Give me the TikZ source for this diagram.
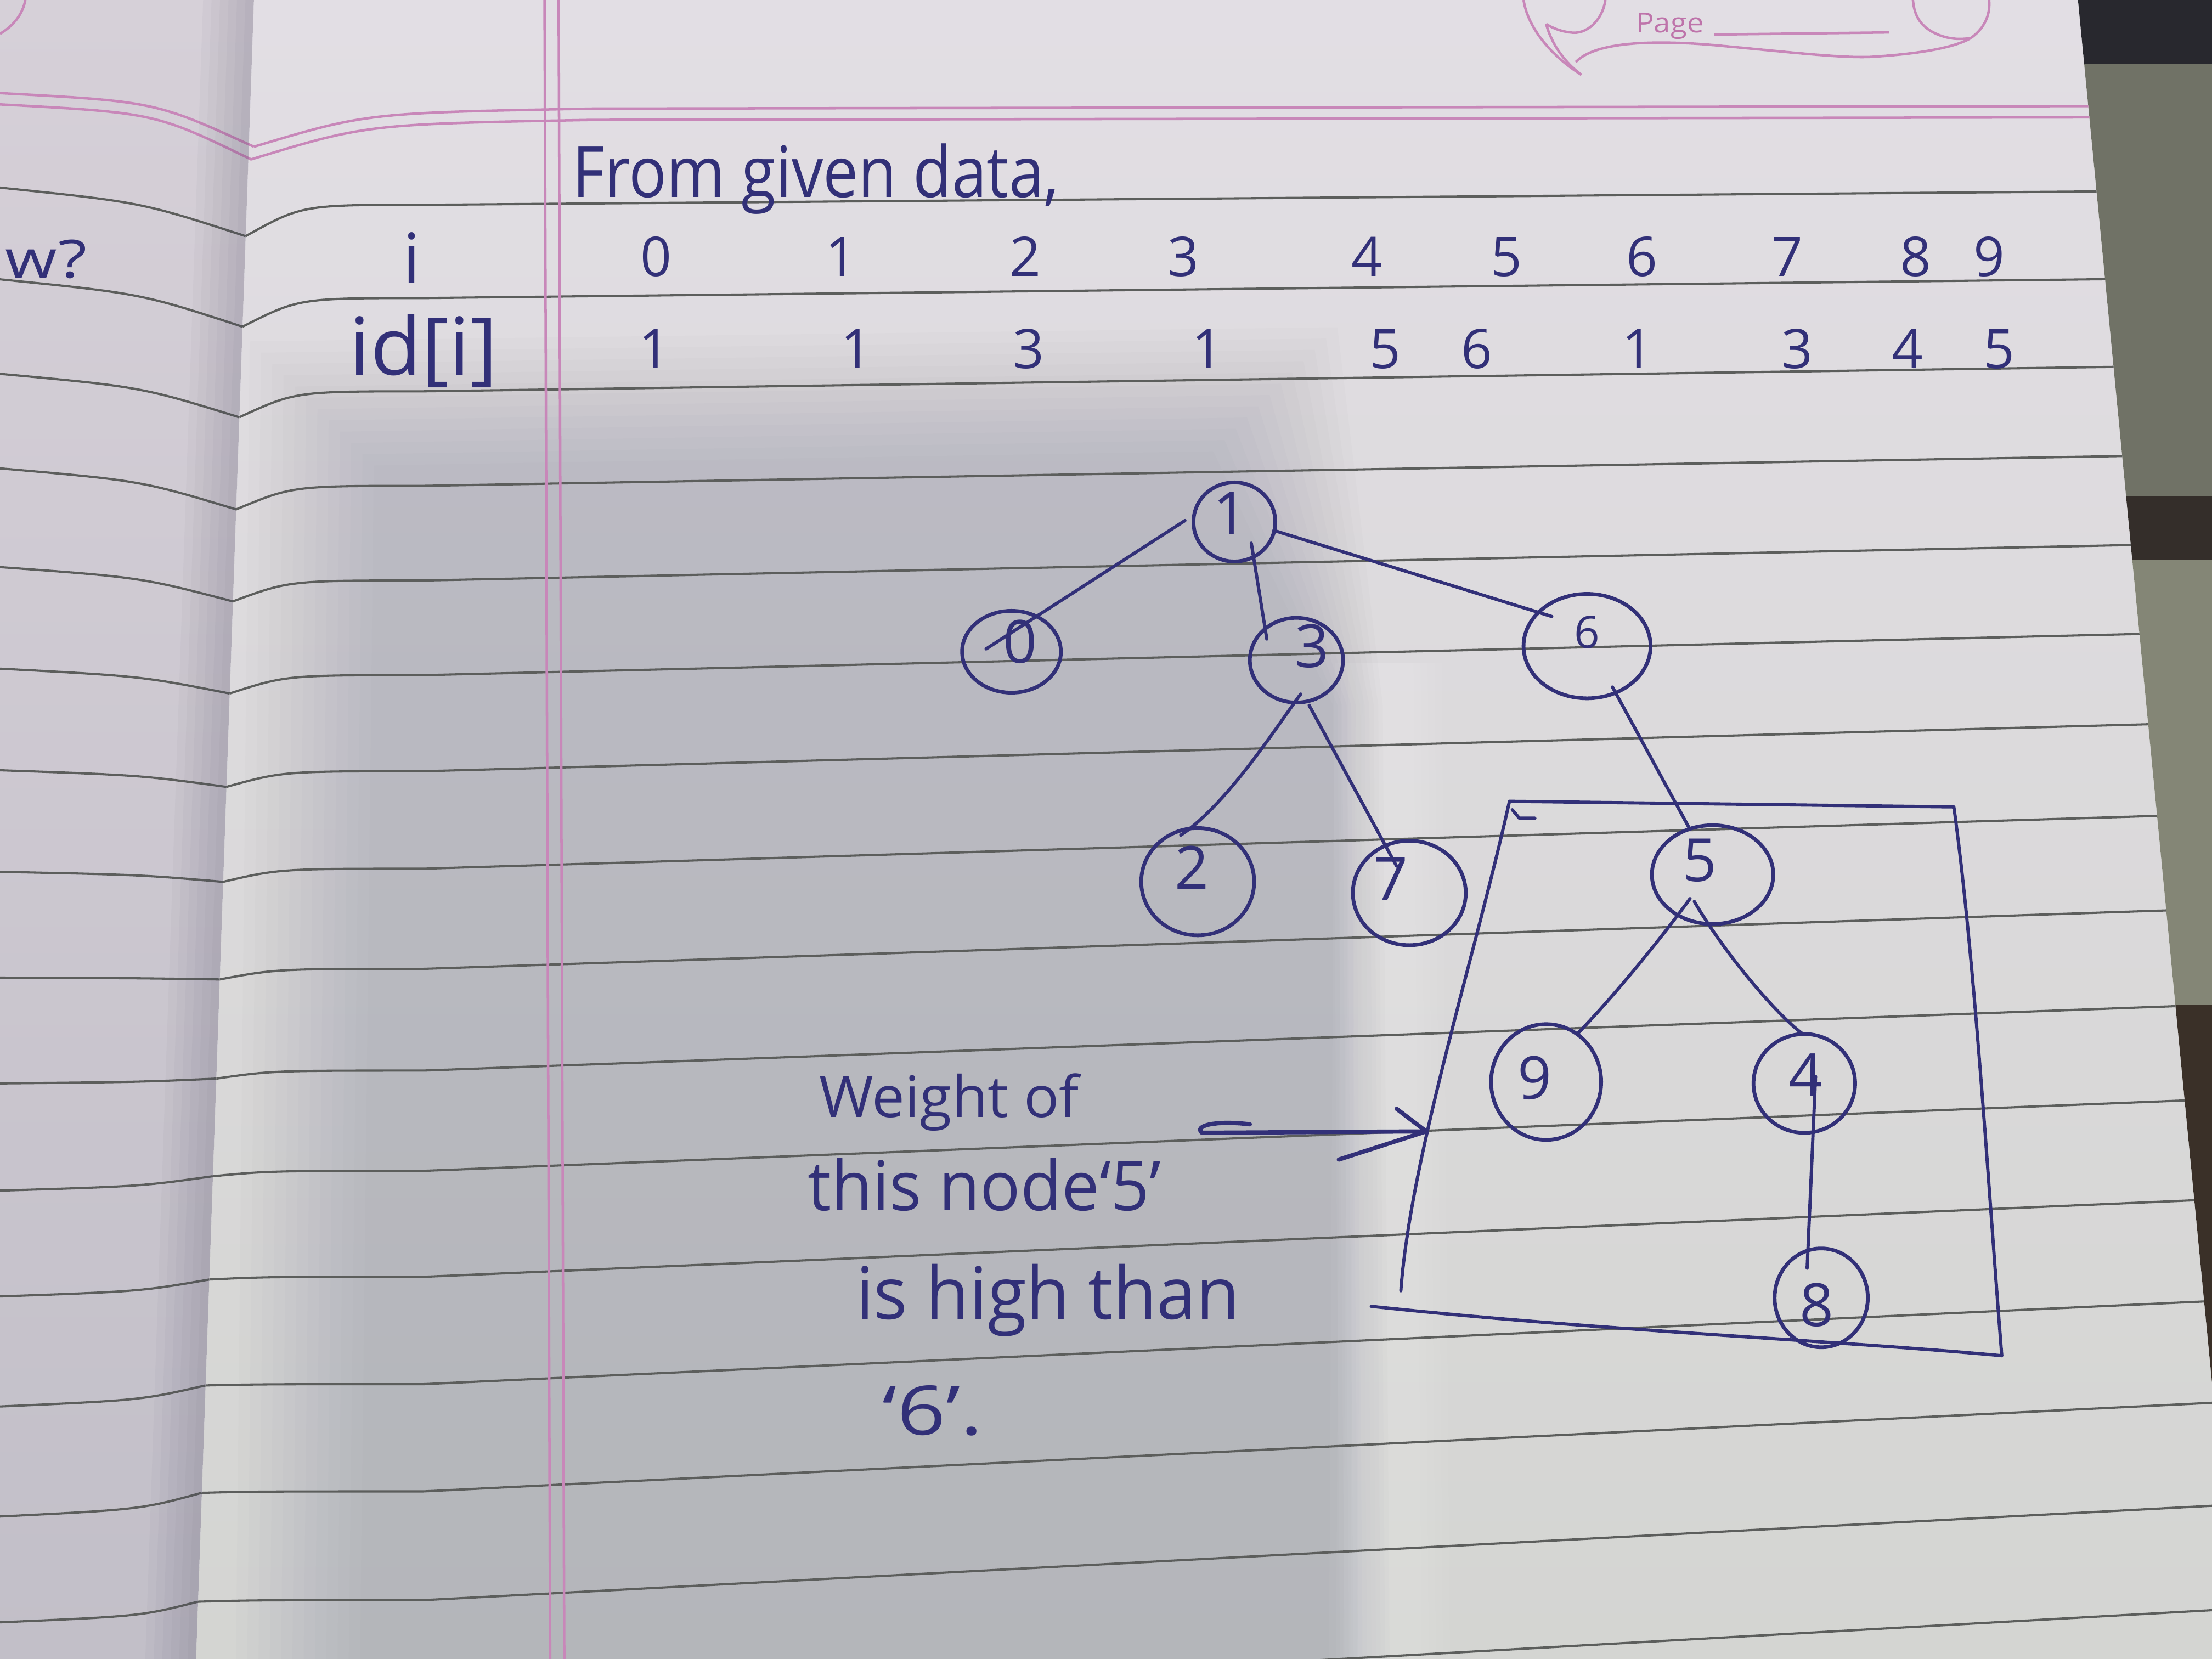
\documentclass[tikz,border=0pt]{standalone}
\usepackage{fontspec}
\setmainfont{Open Sans}
\usepackage{graphicx}
\usetikzlibrary{shapes.geometric,calc}
\definecolor{ink}{RGB}{50,48,120}
\definecolor{rulec}{RGB}{92,94,92}
\definecolor{pinkc}{RGB}{200,135,185}
\definecolor{pinktext}{RGB}{190,115,170}
\definecolor{paperTop}{RGB}{226,222,228}
\definecolor{paperBot}{RGB}{212,213,210}
\definecolor{leftTop}{RGB}{214,208,216}
\definecolor{leftBot}{RGB}{194,191,200}
\definecolor{shadowc}{RGB}{62,66,84}
\definecolor{gutterc}{RGB}{70,66,90}
\definecolor{deskA}{RGB}{40,40,46}
\definecolor{deskB}{RGB}{112,114,102}
\definecolor{deskC}{RGB}{52,46,42}
\definecolor{deskD}{RGB}{132,134,118}
\definecolor{deskE}{RGB}{58,48,40}
\begin{document}
\begin{tikzpicture}[x=0.01cm,y=-0.01cm,
  tnode/.style={ellipse,draw=ink,line width=0.75pt,inner sep=0pt},
  digit/.style={text=ink,font=\fontsize{12}{14}\selectfont,inner sep=0pt},
  tdigit/.style={text=ink,font=\fontsize{11}{13}\selectfont,inner sep=0pt,anchor=base},
  edge/.style={draw=ink,line width=0.65pt,line cap=round,line join=round},
  words/.style={text=ink,inner sep=0pt,anchor=base west},
  ruled/.style={draw=rulec,line width=0.45pt},
  pinkrule/.style={draw=pinkc,line width=0.5pt}]
\useasboundingbox (0,0) rectangle (1568,1176);

% ---------- paper ----------
\coordinate (gtop) at (180,0);
\coordinate (gbot) at (139,1176);
\shade[top color=leftTop,bottom color=leftBot] (0,0) -- (gtop) -- (gbot) -- (0,1176) -- cycle;
\shade[top color=paperTop,bottom color=paperBot] (gtop) -- (1473,0) -- (1568,980) -- (1568,1176) -- (gbot) -- cycle;

% ---------- desk beyond the page ----------
\begin{scope}
\clip (1473,0) -- (1568,0) -- (1568,980) -- cycle;
\fill[deskA] (1400,0) rectangle (1600,45);
\fill[deskB] (1400,45) rectangle (1600,352);
\fill[deskC] (1400,352) rectangle (1600,397);
\fill[deskD] (1400,397) rectangle (1600,712);
\fill[deskE] (1400,712) rectangle (1600,1000);
\end{scope}

% ---------- right page: shadow, rules, margin ----------
\begin{scope}
\clip (gtop) -- (1473,0) -- (1568,980) -- (1568,1176) -- (gbot) -- cycle;
\foreach \d in {0,8,...,88}{
  \fill[shadowc,opacity=0.016] ({265-\d},{330-\d}) -- ({860+\d},{320-\d}) -- ({945+0.4*\d},500) -- ({950+0.4*\d},1200) -- ({255-\d},1200) -- cycle;
}
\foreach \d in {0,5,...,20}{
  \fill[white,opacity=0.04] ({966-\d},470) -- ({1002+\d},470) -- ({1008+\d},1200) -- ({962-\d},1200) -- cycle;
}
\foreach \gx/\G/\ya/\yb in {
174.1/167.4/145.2/134.8, 171.9/231.6/211.3/196.7, 169.6/295.8/277.4/258.6,
167.4/361.1/344.4/321.6, 165.1/426.3/411.5/384.5, 162.8/491.6/478.6/447.4,
160.5/557.8/546.7/511.3, 158.1/625.1/615.8/576.2, 155.7/694.3/686.8/643.2,
153.2/764.6/758.9/711.1, 150.8/833.8/830/778, 148.3/907/905.1/848.9,
145.6/982.1/981.2/920.8, 143/1058.2/1057.2/992.8, 140.3/1135.4/1134.3/1065.7,
137.6/1213/1212.4/1139.6}{
  \draw[ruled] (\gx,\G) .. controls ({\gx+40},\ya) .. (300,\ya) -- (1600,\yb);
}
\draw[pinkrule] (180,104) .. controls (260,80) .. (420,77) -- (1600,75);
\draw[pinkrule] (178,113) .. controls (260,88) .. (420,85) -- (1600,83);
\draw[pinkrule] (386,0) -- (390,1176);
\draw[pinkrule] (396,0) -- (400,1176);
\end{scope}

% ---------- left page rules ----------
\foreach \L/\G/\gx in {133/167.4/174.1, 198/231.6/171.9, 265/295.8/169.6, 332/361.1/167.4,
402/426.3/165.1, 474/491.6/162.8, 546/557.8/160.5, 618/625.1/158.1, 693/694.3/155.7,
768/764.6/153.2, 844/833.8/150.8, 919/907/148.3, 997/982.1/145.6, 1075/1058.2/143,
1150/1135.4/140.3}{
  \draw[ruled] (0,\L) .. controls (100,{\L+0.3*(\G-\L)}) .. (\gx,\G);
}
\draw[pinkrule] (0,66) .. controls (110,72) .. (180,104);
\draw[pinkrule] (0,74) .. controls (110,80) .. (178,113);
\draw[pinkrule] (0,24) .. controls (10,18) and (16,10) .. (18,0);
\foreach \w in {36,30,...,6}{
  \fill[gutterc,opacity=0.035] ({180-\w},0) -- (180,0) -- (139,1176) -- ({139-\w},1176) -- cycle;
}

% ---------- page banner ----------
\draw[pinkrule] (1080,0) .. controls (1083,20) and (1100,40) .. (1121,53);
\draw[pinkrule] (1138,0) .. controls (1136,14) and (1125,25) .. (1113,23) .. controls (1105,22) and (1099,19) .. (1096,17);
\draw[pinkrule] (1096,17) .. controls (1100,32) and (1110,45) .. (1121,53);
\draw[pinkrule] (1117,44) .. controls (1130,30) and (1170,28) .. (1215,32) .. controls (1270,37) and (1310,42) .. (1331,40) .. controls (1360,38) and (1385,34) .. (1397,27);
\draw[pinkrule] (1397,27) .. controls (1407,20) and (1411,10) .. (1410,0);
\draw[pinkrule] (1356,0) .. controls (1357,12) and (1362,20) .. (1375,25) .. controls (1383,28) and (1390,28) .. (1397,27);
\node[anchor=base west,text=pinktext,inner sep=0pt] (pg) at (1159,23) {\resizebox{0.48cm}{0.14cm}{Page}};
\draw[pinkrule] (1215,24.5) -- (1339,23);

% ---------- left page ink ----------
\node[words] (lw) at (3,197) {\resizebox{0.58cm}{0.27cm}{w?}};

% ---------- heading and table ----------
\node[words] (head) at (405,140) {\resizebox{3.45cm}{0.38cm}{From given data,}};
\node[text=ink,inner sep=0pt,anchor=base,font=\fontsize{14}{16}\selectfont] (li) at (292,201) {i};
\node[words] (lid) at (247,266) {\resizebox{1.05cm}{0.43cm}{id[i]}};
\foreach \x/\t [count=\c] in {465/0,596/1,727/2,839/3,969/4,1068/5,1164/6,1267/7,1358/8,1410/9}{
  \node[tdigit] (ia\c) at (\x,196) {\t};
}
\foreach \x/\t [count=\c] in {464/1,607/1,729/3,856/1,982/5,1047/6,1161/1,1274/3,1352/4,1417/5}{
  \node[tdigit] (ib\c) at (\x,261) {\t};
}

% ---------- tree ----------
\node[tnode,minimum width=0.58cm,minimum height=0.56cm,label={[digit,xshift=-0.03cm,yshift=0.06cm]center:1}] (n1) at (875,370) {};
\node[tnode,minimum width=0.70cm,minimum height=0.58cm,label={[digit,xshift=0.06cm,yshift=0.07cm]center:0}] (n0) at (717,462) {};
\node[tnode,minimum width=0.66cm,minimum height=0.60cm,label={[digit,xshift=0.11cm,yshift=0.10cm]center:3}] (n3) at (919,468) {};
\node[tnode,minimum width=0.90cm,minimum height=0.74cm,label={[digit,font=\fontsize{9}{11}\selectfont,yshift=0.10cm]center:6}] (n6) at (1125,458) {};
\node[tnode,minimum width=0.80cm,minimum height=0.76cm,label={[digit,xshift=-0.04cm,yshift=0.10cm]center:2}] (n2) at (849,625) {};
\node[tnode,minimum width=0.80cm,minimum height=0.74cm,label={[digit,xshift=-0.13cm,yshift=0.10cm]center:7}] (n7) at (999,633) {};
\node[tnode,minimum width=0.86cm,minimum height=0.70cm,label={[digit,xshift=-0.09cm,yshift=0.10cm]center:5}] (n5) at (1214,620) {};
\node[tnode,minimum width=0.78cm,minimum height=0.82cm,label={[digit,xshift=-0.08cm,yshift=0.03cm]center:9}] (n9) at (1096,767) {};
\node[tnode,minimum width=0.72cm,minimum height=0.70cm,label={[digit,xshift=0.01cm,yshift=0.06cm]center:4}] (n4) at (1279,768) {};
\node[tnode,minimum width=0.66cm,minimum height=0.70cm,label={[digit,xshift=-0.03cm,yshift=-0.05cm]center:8}] (n8) at (1291,920) {};

\draw[edge] ($(n1.center)+(-35,-1)$) -- ($(n0.center)+(-18,-2)$);
\draw[edge] ($(n1.center)+(12,15)$) -- ($(n3.center)+(-21,-15)$);
\draw[edge] ($(n1.center)+(28,6)$) -- ($(n6.center)+(-25,-21)$);
\draw[edge] ($(n3.center)+(3,24)$) .. controls (905,515) and (870,570) .. ($(n2.center)+(-12,-33)$);
\draw[edge] ($(n3.center)+(9,32)$) -- ($(n7.center)+(-9,-19)$);
\draw[edge] ($(n6.center)+(18,29)$) -- ($(n5.center)+(-16,-32)$);
\draw[edge] ($(n5.center)+(-16,17)$) .. controls (1185,655) and (1150,700) .. ($(n9.center)+(22,-34)$);
\draw[edge] ($(n5.center)+(-13,19)$) .. controls (1222,675) and (1258,718) .. ($(n4.center)+(-1,-35)$);
\draw[edge] ($(n4.center)+(8,-5)$) -- ($(n8.center)+(-10,-21)$);

% ---------- box round the sub-tree of 5 ----------
\coordinate (b1) at (993,915);
\coordinate (b2) at (1070,568);
\coordinate (b3) at (1385,572);
\coordinate (b4) at (1419,961);
\coordinate (b5) at (972,926);
\draw[edge] (b1) .. controls (1000,820) and (1045,680) .. (b2) -- (b3) .. controls (1400,680) and (1410,850) .. (b4) .. controls (1300,950) and (1130,943) .. (b5);
\draw[edge] (1072,574) -- (1077,580) -- (1088,580);

% ---------- annotation ----------
\node[words] (t1) at (580,792) {\resizebox{1.84cm}{0.31cm}{Weight of}};
\node[words] (t2) at (572,858) {\resizebox{2.50cm}{0.37cm}{this node‘5’}};
\node[words] (t3) at (606,935) {\resizebox{2.72cm}{0.39cm}{is high than}};
\node[words] (t4) at (625,1017) {\resizebox{0.71cm}{0.35cm}{‘6’.}};

\coordinate (atail) at (852,803);
\coordinate (atip) at (1011,802);
\draw[edge,line width=0.85pt] (886,797) .. controls (862,794) and (846,798) .. (atail) -- (atip);
\draw[edge,line width=0.85pt] (990,786) -- (atip) -- (949,822);
\end{tikzpicture}
\end{document}
